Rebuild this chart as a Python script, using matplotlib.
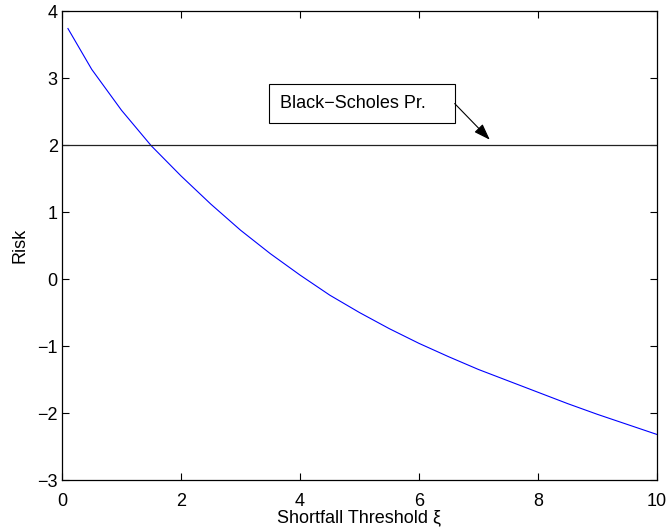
import matplotlib
matplotlib.use('Agg')
import matplotlib.pyplot as plt
from matplotlib.patches import Rectangle

# values
threshold = [0.1, 0.5, 1.0, 1.5, 2.0, 2.5, 3.0, 3.5, 4.0, 4.5, 5.0,
             5.5, 6.0, 6.5, 7.0, 7.5, 8.0, 8.5, 9.0, 9.5, 10.0]
risk = [3.74, 3.13, 2.52, 1.99, 1.54, 1.12, 0.73, 0.38, 0.06, -0.24, -0.50,
        -0.74, -0.96, -1.16, -1.35, -1.52, -1.69, -1.86, -2.02, -2.17, -2.32]
bs_price = 2.0
x_ticks = [0, 2, 4, 6, 8, 10]
y_ticks = [-3, -2, -1, 0, 1, 2, 3, 4]

plt.rcParams['font.family'] = ['Liberation Sans', 'DejaVu Sans']
plt.rcParams['axes.unicode_minus'] = True

fig = plt.figure(figsize=(6.68, 5.29), dpi=100)
ax = fig.add_axes([0.0928, 0.0926, 0.8907, 0.8864])

ax.plot(threshold, risk, color='blue', linewidth=0.8)
ax.axhline(bs_price, color='#222222', linewidth=0.9)

ax.set_xlim(0, 10)
ax.set_ylim(-3, 4)
ax.set_xticks(x_ticks)
ax.set_yticks(y_ticks)
ax.tick_params(direction='in', length=5, width=0.8, top=True, right=True,
               labelsize=13)
ax.tick_params(axis='x', pad=9)
ax.tick_params(axis='y', pad=3)
for s in ax.spines.values():
    s.set_linewidth(0.9)

ax.set_xlabel('Shortfall Threshold ξ', fontsize=13, labelpad=0)
ax.set_ylabel('Risk', fontsize=13, labelpad=6)

# text box with arrow, MATLAB style
ax.add_patch(Rectangle((3.48, 2.334), 3.12, 0.572, facecolor='white',
                       edgecolor='black', linewidth=0.8, zorder=4))
ax.text(3.66, 2.62, 'Black−Scholes Pr.', fontsize=13, ha='left', va='center',
        zorder=5)
ax.annotate('', xy=(7.19, 2.08), xytext=(6.60, 2.62),
            arrowprops=dict(arrowstyle='-|>,head_length=1.0,head_width=0.35',
                            color='black', linewidth=0.8,
                            shrinkA=0, shrinkB=0), zorder=5)

fig.savefig('out.png', dpi=100)
plt.close()
